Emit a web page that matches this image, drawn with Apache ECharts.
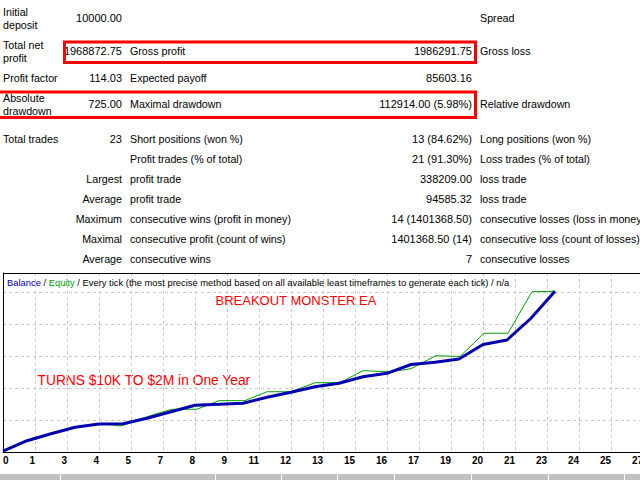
<!DOCTYPE html>
<html>
<head>
<meta charset="utf-8">
<script src="https://cdn.jsdelivr.net/npm/echarts@6/dist/echarts.min.js"></script>
<style>
  html, body { margin: 0; padding: 0; background: #fff; overflow: hidden; }
  #main { width: 680px; height: 480px; }
</style>
</head>
<body>
<div id="main"></div>
<script>
// balance after each trade (index = trade number)
var balance = [10000, 139000, 225000, 304000, 345000, 347000, 415000, 496000, 575000, 587000,
  600000, 674000, 735000, 804000, 846000, 927000, 969000, 1077000, 1104000, 1145000,
  1324000, 1379000, 1647000, 1978872.75];

// equity curve vertices (trade position, money)
var equityTrade = [0, 1, 2, 3, 4, 4.58, 4.88, 5.17, 5.58, 6.67, 7.04, 8.08, 9, 10.08, 11, 12, 13,
  14.04, 15, 16, 16.6, 17, 18.04, 19.04, 20.04, 21.04, 22.04, 23];
var equityValue = [10000, 139000, 225000, 304000, 345000, 332000, 320000, 345000, 394000, 496000,
  526000, 526000, 632000, 632000, 742000, 742000, 853000, 853000, 1001000, 989000, 1006000,
  1026000, 1186000, 1176000, 1462000, 1462000, 1973000, 1978872.75];

// report summary (top block)
var summaryLabels = [['Initial', 'deposit'], ['Total net', 'profit'], ['Profit factor'], ['Absolute', 'drawdown']];
var summaryValues = ['10000.00', '1968872.75', '114.03', '725.00'];
var summaryLabels2 = ['', 'Gross profit', 'Expected payoff', 'Maximal drawdown'];
var summaryValues2 = ['', '1986291.75', '85603.16', '112914.00 (5.98%)'];
var summaryLabels3 = ['Spread', 'Gross loss', '', 'Relative drawdown'];

// trade statistics block
var statsPrefix = ['23', '', 'Largest', 'Average', 'Maximum', 'Maximal', 'Average'];
var statsLabels = ['Short positions (won %)', 'Profit trades (% of total)', 'profit trade', 'profit trade',
  'consecutive wins (profit in money)', 'consecutive profit (count of wins)', 'consecutive wins'];
var statsValues = ['13 (84.62%)', '21 (91.30%)', '338209.00', '94585.32', '14 (1401368.50)', '1401368.50 (14)', '7'];
var statsLabels2 = ['Long positions (won %)', 'Loss trades (% of total)', 'loss trade', 'loss trade',
  'consecutive losses (loss in money)', 'consecutive loss (count of losses)', 'consecutive losses'];

var FAMILY = '"Liberation Sans", Arial, sans-serif';
var FONT = '10.7px ' + FAMILY;
var FONT_NUM = '11px ' + FAMILY;
var FONT_HEAD = '9.4px ' + FAMILY;

function txt(x, y, s, align, color, font) {
  return {
    type: 'text', x: x, y: y, silent: true,
    style: { text: s, font: font || FONT, fill: color || '#000', align: align || 'left', verticalAlign: 'middle' }
  };
}

var g = [];
var rowY = [18, 51, 78, 104];
summaryLabels.forEach(function (lines, i) {
  if (lines.length === 2) {
    g.push(txt(3, rowY[i] - 6.5, lines[0]));
    g.push(txt(3, rowY[i] + 6.5, lines[1]));
  } else {
    g.push(txt(3, rowY[i], lines[0]));
  }
  g.push(txt(122, rowY[i], summaryValues[i], 'right', null, FONT_NUM));
  g.push(txt(130, rowY[i], summaryLabels2[i]));
  g.push(txt(472, rowY[i], summaryValues2[i], 'right', null, FONT_NUM));
  g.push(txt(480, rowY[i], summaryLabels3[i]));
});

g.push(txt(3, 139, 'Total trades'));
statsLabels.forEach(function (s, i) {
  var y = 139 + 20 * i;
  g.push(txt(122, y, statsPrefix[i], 'right', null, i === 0 ? FONT_NUM : FONT));
  g.push(txt(130, y, s));
  g.push(txt(472, y, statsValues[i], 'right', null, FONT_NUM));
  g.push(txt(480, y, statsLabels2[i]));
});

// red highlight boxes
g.push({ type: 'rect', shape: { x: 64.5, y: 42, width: 411, height: 20.5 },
  style: { fill: 'none', stroke: '#ff0000', lineWidth: 3 } });
g.push({ type: 'rect', shape: { x: -5, y: 92, width: 480.5, height: 25.5 },
  style: { fill: 'none', stroke: '#ff0000', lineWidth: 3 } });

// chart top border
g.push({ type: 'line', shape: { x1: 3, y1: 273.5, x2: 680, y2: 273.5 },
  style: { stroke: '#000', lineWidth: 1 }, z: 10 });

// chart header
g.push({
  type: 'text', x: 7, y: 282, z: 10, silent: true,
  style: {
    text: '{b|Balance} / {e|Equity} / Every tick (the most precise method based on all available least timeframes to generate each tick) / n/a',
    font: FONT_HEAD, fill: '#000', verticalAlign: 'middle',
    rich: {
      b: { fill: '#0000c0', font: FONT_HEAD },
      e: { fill: '#00a000', font: FONT_HEAD }
    }
  }
});

g.push(txt(215.5, 300, 'BREAKOUT MONSTER EA', 'left', '#ff0000', '13px ' + FAMILY));
g.push(txt(37.5, 380, 'TURNS $10K TO $2M in One Year', 'left', '#ff0000', '13.8px ' + FAMILY));

// tab strip at the bottom
g.push({ type: 'rect', shape: { x: 0, y: 474, width: 680, height: 6 }, style: { fill: '#c0c0c0' } });
[60, 215, 281, 337, 394, 471, 548, 624].forEach(function (x) {
  g.push({ type: 'line', shape: { x1: x + 0.5, y1: 474, x2: x + 0.5, y2: 480 }, style: { stroke: '#fff', lineWidth: 1 } });
});

var chart = echarts.init(document.getElementById('main'), null, { renderer: 'svg' });

var option = {
  animation: false,
  backgroundColor: '#fff',
  grid: { left: 3, top: 273, width: 672, height: 179 },
  xAxis: {
    type: 'value', min: 0, max: 28, interval: 4 / 3,
    axisLine: { lineStyle: { color: '#000', width: 1 } },
    axisTick: { show: false },
    axisLabel: {
      color: '#000', fontSize: 10, fontWeight: 'bold', fontFamily: 'Liberation Sans',
      margin: 3, align: 'right', alignMinLabel: 'left', showMaxLabel: false,
      formatter: function (v) { return String(Math.round(v)); }
    },
    splitLine: { lineStyle: { color: '#c8c8c8', type: [3, 3] } }
  },
  yAxis: {
    type: 'value', min: 0, max: 2204000, interval: 394000,
    axisLine: { show: true, lineStyle: { color: '#000', width: 1 } },
    axisTick: { show: false },
    axisLabel: { show: false },
    splitLine: { lineStyle: { color: '#c8c8c8', type: [3, 3] } }
  },
  series: [
    {
      name: 'Equity', type: 'line', showSymbol: false, silent: true,
      lineStyle: { color: '#00a000', width: 1 },
      data: equityTrade.map(function (t, i) { return [t, equityValue[i]]; })
    },
    {
      name: 'Balance', type: 'line', showSymbol: false, silent: true,
      lineStyle: { color: '#0000b0', width: 3 },
      data: balance.map(function (v, i) { return [i, v]; })
    }
  ],
  graphic: g
};

chart.setOption(option);
</script>
</body>
</html>
